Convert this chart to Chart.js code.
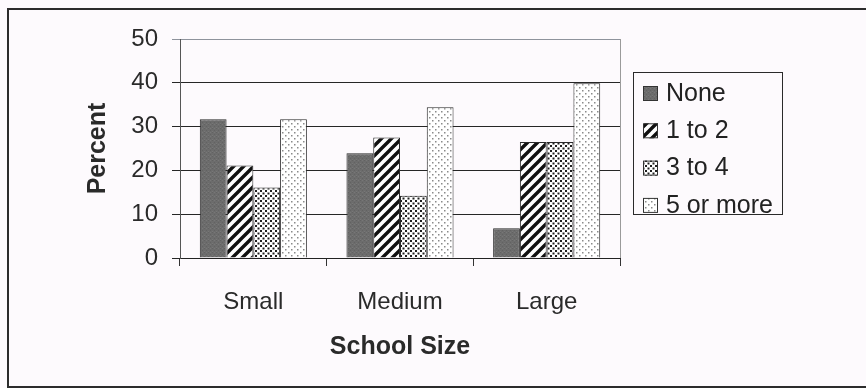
<!DOCTYPE html>
<html>
<head>
<meta charset="utf-8">
<script src="https://cdn.jsdelivr.net/npm/chart.js@4"></script>
<style>
  html, body { margin: 0; padding: 0; background: #fdfafd; }
  #wrap { position: relative; width: 866px; height: 388px; overflow: hidden; }
  #frame {
    position: absolute; left: 7px; top: 8px; width: 900px; height: 376px;
    border: 2px solid #2c2c2c;
  }
  #chart { position: absolute; left: 0; top: 0; }
</style>
</head>
<body>
<div id="wrap">
  <div id="frame"></div>
  <canvas id="chart" width="866" height="388"></canvas>
</div>
<script>
const categories = ['Small', 'Medium', 'Large'];
const seriesNames = ['None', '1 to 2', '3 to 4', '5 or more'];
const noneValues = [31.7, 23.9, 6.8];
const oneToTwoValues = [21.1, 27.5, 26.5];
const threeToFourValues = [16.1, 14.2, 26.5];
const fiveOrMoreValues = [31.7, 34.4, 39.9];
const yTicks = [0, 10, 20, 30, 40, 50];

// small tiled fills for the bars
function makeTile(size, paint) {
    const c = document.createElement('canvas');
    c.width = size; c.height = size;
    const g = c.getContext('2d');
    paint(g, size);
    return c.getContext('2d').createPattern(c, 'repeat');
}

const solidGray = makeTile(4, (g, s) => {
    g.fillStyle = '#6c6c6c'; g.fillRect(0, 0, s, s);
    g.fillStyle = '#626262'; g.fillRect(0, 0, 1, 1); g.fillRect(2, 2, 1, 1);
    g.fillStyle = '#777777'; g.fillRect(2, 0, 1, 1); g.fillRect(0, 3, 1, 1);
});

const stripes = makeTile(10, (g, s) => {
    g.fillStyle = '#ffffff'; g.fillRect(0, 0, s, s);
    g.strokeStyle = '#111111'; g.lineWidth = 3.4;
    g.beginPath();
    g.moveTo(-2, s + 2); g.lineTo(s + 2, -2);
    g.moveTo(-2, 2); g.lineTo(2, -2);
    g.moveTo(s - 2, s + 2); g.lineTo(s + 2, s - 2);
    g.stroke();
});

const denseDots = makeTile(5, (g, s) => {
    g.fillStyle = '#ffffff'; g.fillRect(0, 0, s, s);
    g.fillStyle = '#1e1e1e';
    g.fillRect(0, 0, 2, 2); g.fillRect(2.5, 2.5, 2, 2);
});

const lightDots = makeTile(6, (g, s) => {
    g.fillStyle = '#ffffff'; g.fillRect(0, 0, s, s);
    g.fillStyle = '#8a8a8a';
    g.fillRect(0, 0, 1.5, 1.5); g.fillRect(3, 3, 1.5, 1.5);
});

const fills = [solidGray, stripes, denseDots, lightDots];
const seriesValues = [noneValues, oneToTwoValues, threeToFourValues, fiveOrMoreValues];

const font = "'Liberation Sans', Arial, sans-serif";

// boxed legend to the right of the plot, plus the plot's right edge
const boxLegend = {
    id: 'boxLegend',
    afterDraw(chart) {
        const ctx = chart.ctx;
        const area = chart.chartArea;
        ctx.save();
        ctx.strokeStyle = '#9a9a9a';
        ctx.lineWidth = 1;
        ctx.beginPath();
        ctx.moveTo(area.right + 0.5, area.top);
        ctx.lineTo(area.right + 0.5, area.bottom);
        ctx.stroke();

        const x = area.right + 13, y = area.top + 33, w = 149, h = 142;
        ctx.strokeStyle = '#2a2a2a';
        ctx.strokeRect(x + 0.5, y + 0.5, w, h);
        ctx.font = '25px ' + font;
        ctx.textBaseline = 'middle';
        chart.data.datasets.forEach((ds, i) => {
            const cy = y + 21 + i * 37.3;
            ctx.fillStyle = ds.backgroundColor;
            ctx.fillRect(x + 10, cy - 7, 15, 15);
            ctx.strokeStyle = '#333';
            ctx.strokeRect(x + 10.5, cy - 6.5, 14, 14);
            ctx.fillStyle = '#222';
            ctx.fillText(ds.label, x + 33, cy + 1);
        });
        ctx.restore();
    }
};

new Chart(document.getElementById('chart'), {
    type: 'bar',
    data: {
        labels: categories,
        datasets: seriesNames.map((name, i) => ({
            label: name,
            data: seriesValues[i],
            backgroundColor: fills[i],
            borderColor: '#2a2a2a',
            borderWidth: 1,
            barPercentage: 1,
            categoryPercentage: 0.73
        }))
    },
    options: {
        responsive: false,
        animation: false,
        layout: { padding: { left: 0, top: 39, right: 246, bottom: 0 } },
        plugins: {
            legend: { display: false },
            tooltip: { enabled: false }
        },
        scales: {
            x: {
                afterFit(scale) { scale.height = 130; },
                grid: {
                    offset: true,
                    drawOnChartArea: false,
                    drawTicks: true,
                    tickLength: 8,
                    color: '#333'
                },
                border: { color: '#222', width: 1 },
                ticks: {
                    color: '#2a2a2a',
                    padding: 22,
                    font: { family: font, size: 24 }
                },
                title: {
                    display: true,
                    text: 'School Size',
                    color: '#2a2a2a',
                    padding: { top: 0, bottom: 26 },
                    font: { family: font, size: 25, weight: 'bold' }
                }
            },
            y: {
                min: 0,
                max: 50,
                afterFit(scale) { scale.width = 180; },
                afterBuildTicks(scale) { scale.ticks = yTicks.map(v => ({ value: v })); },
                grid: {
                    drawTicks: true,
                    tickLength: 8,
                    color: ctx => ctx.tick && ctx.tick.value === 50 ? '#8e939c' : '#262626'
                },
                border: { color: '#555', width: 1 },
                ticks: {
                    color: '#2a2a2a',
                    padding: 14,
                    font: { family: font, size: 24 }
                },
                title: {
                    display: true,
                    text: 'Percent',
                    color: '#2a2a2a',
                    padding: { top: 83, bottom: 0 },
                    font: { family: font, size: 25, weight: 'bold' }
                }
            }
        }
    },
    plugins: [boxLegend]
});
</script>
</body>
</html>
